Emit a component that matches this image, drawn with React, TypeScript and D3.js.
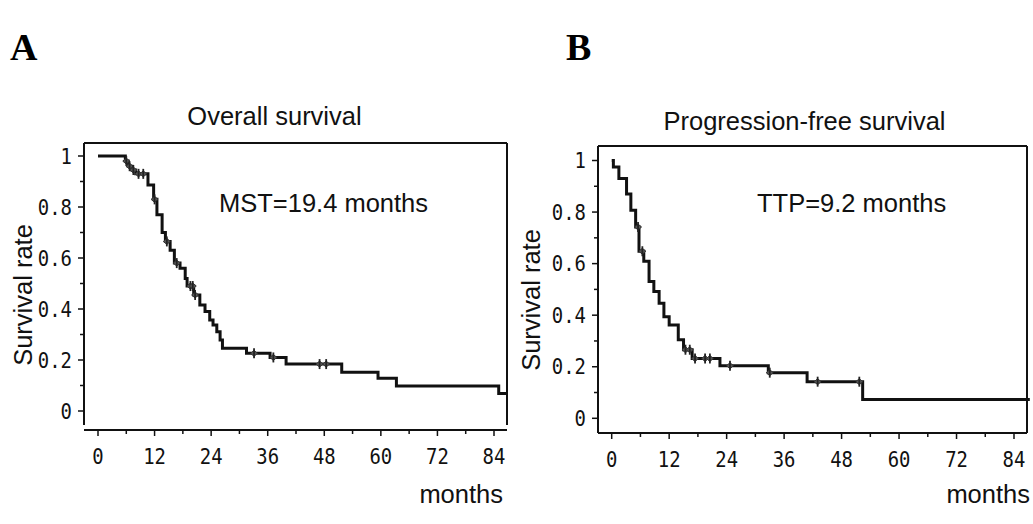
import React from "react";
import * as d3 from "d3";

// ---------- DATA ----------
// Panel A: Overall survival (Kaplan-Meier steps)
const osTimes = [0, 5.8, 6.4, 7.2, 8.0, 10.6, 11.8, 12.5, 13.6, 14.3, 15.3, 16.2, 17.4, 18.5, 18.9, 20.3, 21.6, 22.7, 23.7, 24.4, 25.2, 25.9, 26.4, 31.5, 36.5, 39.9, 51.7, 59.4, 63.3, 85.0];
const osSurv = [1, 0.98, 0.96, 0.945, 0.93, 0.886, 0.83, 0.77, 0.70, 0.665, 0.63, 0.58, 0.56, 0.52, 0.49, 0.455, 0.416, 0.39, 0.357, 0.337, 0.311, 0.278, 0.246, 0.226, 0.21, 0.184, 0.152, 0.128, 0.098, 0.069];
const osCensor = [6.0, 6.7, 7.5, 8.6, 9.6, 12.0, 14.6, 16.7, 19.6, 20.1, 20.6, 33.1, 37.2, 47.0, 48.4];
const osEnd = 86.6;

// Panel B: Progression-free survival
const pfsTimes = [0, 0.35, 1.5, 3.1, 4.0, 5.0, 5.7, 6.7, 7.8, 8.8, 9.9, 10.9, 12.0, 13.9, 15.0, 16.8, 22.6, 32.7, 40.8, 52.4];
const pfsSurv = [1, 0.975, 0.93, 0.87, 0.807, 0.742, 0.648, 0.609, 0.531, 0.492, 0.446, 0.394, 0.362, 0.305, 0.266, 0.232, 0.204, 0.177, 0.142, 0.073];
const pfsCensor = [5.5, 6.4, 15.4, 16.3, 17.4, 19.5, 20.5, 24.7, 33.0, 43.0, 51.7];
const pfsEnd = 87.3;

const xTicks = [0, 12, 24, 36, 48, 60, 72, 84];
const xMinorTicks = [6, 18, 30, 42, 54, 66, 78];
const yTicks = [0, 0.2, 0.4, 0.6, 0.8, 1];
const yMinorTicks = [0.1, 0.3, 0.5, 0.7, 0.9];
const yTickLabels = ["0", "0.2", "0.4", "0.6", "0.8", "1"];

const panelLetters = ["A", "B"];
const titles = ["Overall survival", "Progression-free survival"];
const annotations = ["MST=19.4 months", "TTP=9.2 months"];
const yLabel = "Survival rate";
const xLabel = "months";

// ---------- LAYOUT ----------
type Layout = {
  left: number; right: number; top: number; yAxisBottom: number; xAxisY: number;
  x0: number; x84: number; y0: number; y1: number;
  letterX: number; titleX: number; titleY: number; annX: number; annY: number;
  yLabX: number; yLabY: number; monthsRight: number;
};

const layouts: Layout[] = [
  { left: 84, right: 507, top: 143, yAxisBottom: 425, xAxisY: 430, x0: 98, x84: 494, y0: 411, y1: 156,
    letterX: 10, titleX: 274.5, titleY: 125, annX: 219, annY: 212, yLabX: 23, yLabY: 295, monthsRight: 503 },
  { left: 598, right: 1027, top: 146, yAxisBottom: 433, xAxisY: 433, x0: 611.7, x84: 1014, y0: 418.3, y1: 160.5,
    letterX: 566, titleX: 804.5, titleY: 130, annX: 757, annY: 212, yLabX: 531, yLabY: 300, monthsRight: 1030 },
];

const sans = "'Liberation Sans', Arial, Helvetica, sans-serif";
const mono = "'DejaVu Sans Mono', 'Liberation Mono', monospace";

function survAt(times: number[], surv: number[], t: number) {
  let s = surv[0];
  for (let i = 0; i < times.length; i++) if (times[i] <= t) s = surv[i];
  return s;
}

function Panel({ idx, times, surv, censor, end }: { idx: number; times: number[]; surv: number[]; censor: number[]; end: number }) {
  const L = layouts[idx];
  const x = d3.scaleLinear().domain([0, 84]).range([L.x0, L.x84]);
  const y = d3.scaleLinear().domain([0, 1]).range([L.y0, L.y1]);
  const pts: [number, number][] = times.map((t, i) => [t, surv[i]]);
  pts.push([end, surv[surv.length - 1]]);
  const line = d3.line<[number, number]>().x(d => x(d[0])).y(d => y(d[1])).curve(d3.curveStepAfter);
  const ink = "#111";
  return (
    <g>
      <text x={L.letterX} y={60} fontFamily="'Liberation Serif', 'Times New Roman', serif" fontWeight="bold" fontSize={38} fill="#000">{panelLetters[idx]}</text>
      <text x={L.titleX} y={L.titleY} textAnchor="middle" fontFamily={sans} fontSize={25.5} fill="#111">{titles[idx]}</text>
      {/* frame */}
      <line x1={L.left} x2={L.left} y1={L.top} y2={L.yAxisBottom} stroke={ink} strokeWidth={2} />
      <line x1={L.left} x2={L.right} y1={L.top} y2={L.top} stroke={ink} strokeWidth={2} />
      <line x1={L.right} x2={L.right} y1={L.top} y2={L.yAxisBottom} stroke={ink} strokeWidth={2} />
      <line x1={L.left} x2={L.right} y1={L.xAxisY} y2={L.xAxisY} stroke={ink} strokeWidth={2} />
      {/* y ticks */}
      {yTicks.map((v, i) => (
        <g key={"y" + v}>
          <line x1={L.left - 6} x2={L.left} y1={y(v)} y2={y(v)} stroke={ink} strokeWidth={1.5} />
          <text transform={`translate(${L.left - 12},${y(v)}) scale(0.86,1)`} textAnchor="end" dominantBaseline="central" fontFamily={mono} fontSize={22} fill="#111">{yTickLabels[i]}</text>
        </g>
      ))}
      {yMinorTicks.map(v => (
        <line key={"ym" + v} x1={L.left - 4} x2={L.left} y1={y(v)} y2={y(v)} stroke={ink} strokeWidth={1.5} />
      ))}
      {/* x ticks */}
      {xTicks.map(v => (
        <g key={"x" + v}>
          <line x1={x(v)} x2={x(v)} y1={L.xAxisY} y2={L.xAxisY + 6} stroke={ink} strokeWidth={1.5} />
          <text transform={`translate(${x(v)},${L.xAxisY + 26}) scale(0.86,1)`} textAnchor="middle" dominantBaseline="central" fontFamily={mono} fontSize={22} fill="#111">{String(v)}</text>
        </g>
      ))}
      {xMinorTicks.map(v => (
        <line key={"xm" + v} x1={x(v)} x2={x(v)} y1={L.xAxisY} y2={L.xAxisY + 4} stroke={ink} strokeWidth={1.5} />
      ))}
      {/* curve */}
      <path d={line(pts) || ""} fill="none" stroke={ink} strokeWidth={3} />
      {censor.map((t, i) => {
        const cx = x(t), cy = y(survAt(times, surv, t));
        return (
          <g key={"c" + i}>
            <path d={`M${cx - 3.5},${cy} L${cx},${cy - 3} L${cx + 3.5},${cy} L${cx},${cy + 3} Z`} fill="#555" stroke="#333" strokeWidth={1} />
            <line x1={cx} x2={cx} y1={cy - 5} y2={cy + 5} stroke="#222" strokeWidth={1.8} />
          </g>
        );
      })}
      <text x={L.annX} y={L.annY} fontFamily={sans} fontSize={25.5} fill="#111">{annotations[idx]}</text>
      <text transform={`translate(${L.yLabX},${L.yLabY}) rotate(-90)`} textAnchor="middle" dominantBaseline="central" fontFamily={sans} fontSize={25.5} fill="#111">{yLabel}</text>
      <text x={L.monthsRight} y={503} textAnchor="end" fontFamily={sans} fontSize={25.5} fill="#111">{xLabel}</text>
    </g>
  );
}

export default function App() {
  return (
    <svg width={1033} height={524} style={{ position: "absolute", left: 0, top: 0, background: "#fff" }}>
      <rect x={0} y={0} width={1033} height={524} fill="#fff" />
      <Panel idx={0} times={osTimes} surv={osSurv} censor={osCensor} end={osEnd} />
      <Panel idx={1} times={pfsTimes} surv={pfsSurv} censor={pfsCensor} end={pfsEnd} />
    </svg>
  );
}
